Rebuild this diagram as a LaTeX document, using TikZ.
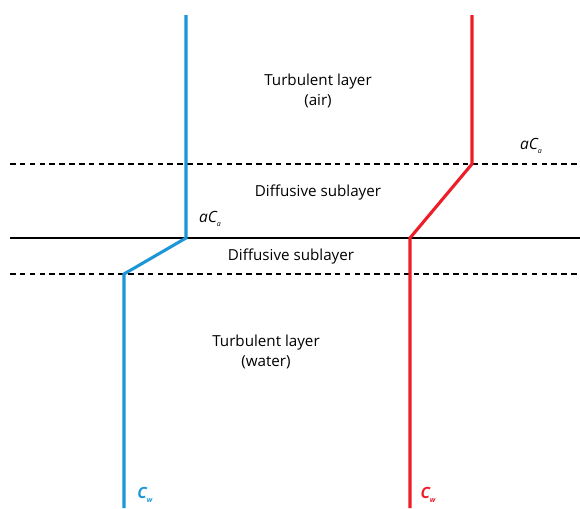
\documentclass[tikz,border=0pt]{standalone}
\usepackage{fontspec}
\setmainfont{Open Sans}
\usepackage{xcolor}
\usetikzlibrary{positioning}

\definecolor{waterblue}{RGB}{28,150,215}
\definecolor{airred}{RGB}{236,30,40}

\tikzset{
  layerlabel/.style={font=\fontsize{10.8}{13}\selectfont, align=center, inner sep=1pt},
  conclabel/.style={font=\fontsize{11}{13}\selectfont\itshape, inner sep=1pt},
  boundary/.style={line width=1.2pt, black},
  sublayer/.style={line width=0.9pt, black, dash pattern=on 4pt off 3pt},
  profile/.style={line width=2.2pt, line join=miter}
}

\begin{document}
\begin{tikzpicture}[x=0.025cm, y=-0.025cm]
% Rahmen
\useasboundingbox (0,0) rectangle (580,508);

% Grenzflaechen
\draw[sublayer] (10,164) -- (580,164);
\draw[boundary] (10,238) -- (580,238);
\draw[sublayer] (10,274) -- (580,274);

% Schichtbeschriftungen
\node[layerlabel] (airtop) at (318,82) {Turbulent layer};
\node[layerlabel, below=1pt of airtop] (airsub) {(air)};
\node[layerlabel] (diffair) at (318,193) {Diffusive sublayer};
\node[layerlabel] (diffwater) at (291,257) {Diffusive sublayer};
\node[layerlabel] (watertop) at (266,343) {Turbulent layer};
\node[layerlabel, below=1pt of watertop] (watersub) {(water)};

% Profil blau
\coordinate (b1) at (186,15);
\coordinate (b2) at (186,238);
\coordinate (b3) at (124,274);
\coordinate (b4) at (124,508);
\draw[profile, waterblue] (b1) -- (b2) -- (b3) -- (b4);

% Profil rot
\coordinate (r1) at (472,15);
\coordinate (r2) at (472,164);
\coordinate (r3) at (410,238);
\coordinate (r4) at (410,508);
\draw[profile, airred] (r1) -- (r2) -- (r3) -- (r4);

% Konzentrationen
\node[conclabel] (acright) at (531,146) {aC\raisebox{-3pt}{\tiny a}};
\node[conclabel] (acleft) at (210,219) {aC\raisebox{-3pt}{\tiny a}};
\node[conclabel, waterblue, font=\fontsize{11}{13}\selectfont\bfseries\itshape] (cwblue) at (145,495) {C\raisebox{-3pt}{\tiny w}};
\node[conclabel, airred, font=\fontsize{11}{13}\selectfont\bfseries\itshape] (cwred) at (428,495) {C\raisebox{-3pt}{\tiny w}};
\end{tikzpicture}
\end{document}
